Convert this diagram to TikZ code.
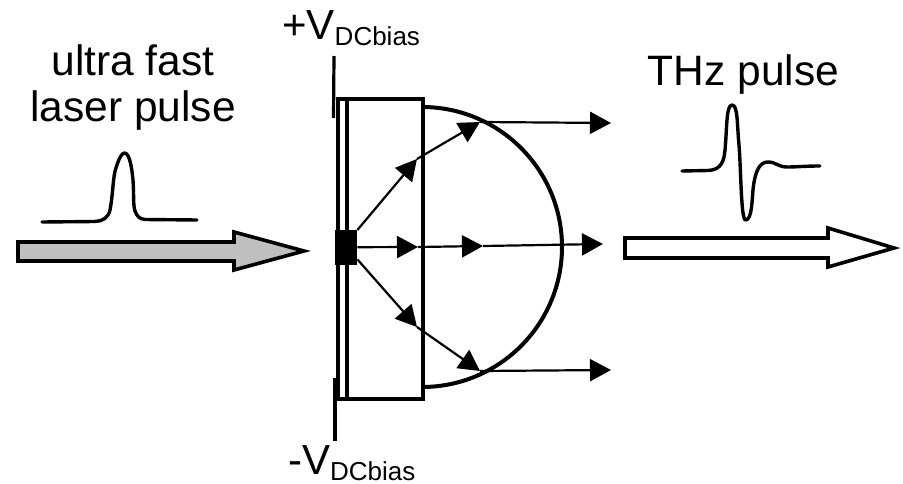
\documentclass[tikz,border=0pt]{standalone}
\usepackage{fontspec}
\setmainfont{Liberation Sans}
\usepackage{tikz}
\usetikzlibrary{positioning,arrows.meta}
\usepackage{xcolor}
\definecolor{pulsegray}{HTML}{BFBFBF}
\newcommand{\dcbias}{\raisebox{-6pt}{\fontsize{26}{26}\selectfont DCbias}}

\begin{document}
\begin{tikzpicture}[
  x=1pt, y=-1pt,
  lbl/.style={inner sep=0pt, align=center, font=\fontsize{42.5}{46}\selectfont},
  biaslbl/.style={inner sep=0pt, anchor=base west, font=\fontsize{42}{47}\selectfont},
  ray/.style={-{Triangle[length=21pt,width=22pt]}, line width=2.2pt},
  body/.style={draw, line width=4pt, line join=miter},
  wire/.style={line width=3.2pt},
  bigarr/.style={draw, line width=3.6pt, line join=miter},
  curve/.style={line width=3.4pt, line cap=round, line join=round}
]
\useasboundingbox (0,0) rectangle (903,484);
% labels
\node[lbl] (laser) at (133,88) {ultra fast\\laser pulse};
\node[lbl, anchor=base] (thz) at (743.5,86) {THz pulse};
\node[biaslbl] (plusv) at (282,40) {+V\dcbias};
\node[biaslbl] (minusv) at (288,474) {-V\dcbias};
% emitter and lens
\draw[body] (422,107) arc[start angle=-90, end angle=90, radius=140];
\node[body, fill=white, minimum width=85pt, minimum height=300pt, inner sep=0pt, anchor=north west] (sub) at (336,97) {};
\draw[line width=4pt] (347,97) -- (347,397);
\node[fill=black, minimum width=22pt, minimum height=35pt, inner sep=0pt, anchor=north west] (gap) at (335,230) {};
\draw[wire] (334,56) -- (333.5,118);
\draw[wire] (335,378) -- (335,441);
% rays
\coordinate (up1) at (417,159);
\coordinate (up2) at (480,122);
\coordinate (up3) at (611,123);
\coordinate (mid1) at (418,247);
\coordinate (mid2) at (483,246);
\coordinate (mid3) at (603,244);
\coordinate (low1) at (417,327);
\coordinate (low2) at (480,371);
\coordinate (low3) at (611,370);
\draw[ray] (gap.north east) -- (up1);
\draw[ray] (up1) -- (up2);
\draw[ray] (up2) -- (up3);
\draw[ray] (gap.east) ++(0,-0.5) -- (mid1);
\draw[ray] (mid1) -- (mid2);
\draw[ray] (mid2) -- (mid3);
\draw[ray] (gap.south east) ++(0,-6) -- (low1);
\draw[ray] (low1) -- (low2);
\draw[ray] (low2) -- (low3);
% big arrows
\draw[bigarr, fill=pulsegray] (18,242) -- (234,242) -- (234,232) -- (304,251) -- (234,270) -- (234,261) -- (18,261) -- cycle;
\draw[bigarr, fill=white] (625,238) -- (828,238) -- (828,228) -- (894,248) -- (828,267) -- (828,258) -- (625,258) -- cycle;
% pulses
\draw[curve] (42,222) -- (95,221.5) to[out=0,in=-100] (110,210)
  .. controls (113,195) and (113,175) .. (116,168)
  .. controls (119,158) and (122,153) .. (124.5,153)
  .. controls (130,153) and (132,170) .. (133,180)
  .. controls (134,195) and (133,205) .. (135,211)
  .. controls (137,216) and (139,219) .. (145,219.5) -- (197,220);
\draw[curve] (682,171) -- (708,170.5)
  .. controls (722,170) and (724,160) .. (725,150)
  .. controls (727,130) and (726,105) .. (732,105)
  .. controls (738,105) and (737,125) .. (739,145)
  .. controls (741,170) and (741,220) .. (745.5,220)
  .. controls (752,220) and (752,200) .. (753,190)
  .. controls (755,170) and (760,162) .. (768,162)
  .. controls (776,162) and (778,167) .. (787,167)
  .. controls (797,167) and (805,166) .. (820,166);
\end{tikzpicture}
\end{document}
